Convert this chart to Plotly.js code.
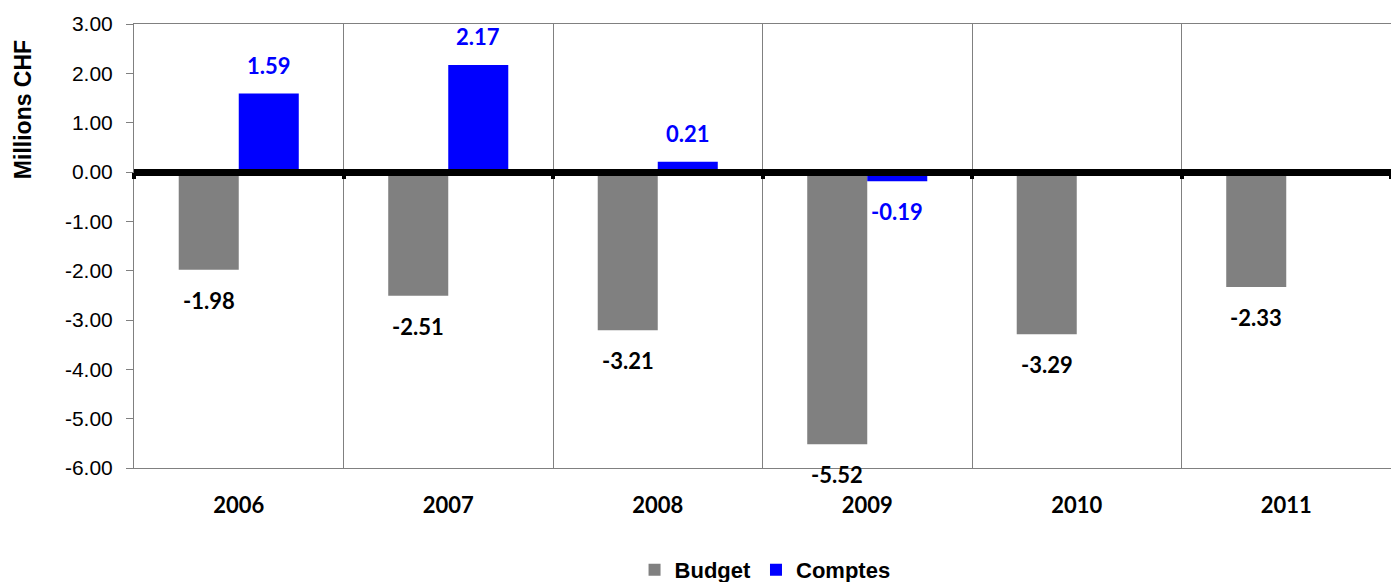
<!DOCTYPE html>
<html>
<head>
<meta charset="utf-8">
<script src="https://cdn.plot.ly/plotly-3.0.1.min.js"></script>
<style>html,body{margin:0;padding:0;background:#fff;overflow:hidden;}#chart{width:1391px;height:582px;}</style>
</head>
<body>
<div id="chart"></div>
<script>
const years = ['2006', '2007', '2008', '2009', '2010', '2011'];
const budget = [-1.98, -2.51, -3.21, -5.52, -3.29, -2.33];
const comptes = [1.59, 2.17, 0.21, -0.19, null, null];
const yTickVals = [3, 2, 1, 0, -1, -2, -3, -4, -5, -6];
const yTickText = yTickVals.map(v => v.toFixed(2));
const yMin = -6, yMax = 3;

const labelFont = {family: 'Lato, "Open Sans", sans-serif', size: 22, color: '#000000', weight: 'bold'};

const traces = [
  {type: 'bar', name: 'Budget', x: years, y: budget,
   marker: {color: '#808080'}, hoverinfo: 'x+y'},
  {type: 'bar', name: 'Comptes', x: years, y: comptes,
   marker: {color: '#0000FF'}, hoverinfo: 'x+y'},
  // helper trace carrying the category axis drawn along the zero line (tick marks only)
  {type: 'scatter', mode: 'markers', x: years, y: years.map(() => null), xaxis: 'x2', yaxis: 'y',
   showlegend: false, hoverinfo: 'skip'}
];

const annotations = [];
years.forEach((yr, i) => {
  if (budget[i] !== null) {
    annotations.push({x: i, y: budget[i], xref: 'x', yref: 'y', text: budget[i].toFixed(2),
      showarrow: false, xshift: -30, yshift: budget[i] < 0 ? -15 : 13,
      yanchor: budget[i] < 0 ? 'top' : 'bottom', font: labelFont});
  }
  if (comptes[i] !== null) {
    annotations.push({x: i, y: comptes[i], xref: 'x', yref: 'y', text: comptes[i].toFixed(2),
      showarrow: false, xshift: 30, yshift: comptes[i] < 0 ? -15 : 13,
      yanchor: comptes[i] < 0 ? 'top' : 'bottom', font: Object.assign({}, labelFont, {color: '#0000FF'})});
  }
});
// y-axis title, placed near the top of the axis as in the reference
annotations.push({xref: 'paper', yref: 'paper', x: -0.0883, y: 0.806, xanchor: 'center', yanchor: 'middle',
  textangle: -90, showarrow: false, text: 'Millions CHF',
  font: {family: '"Liberation Sans", Arial, sans-serif', size: 23, color: '#000000', weight: 'bold'}});

const layout = {
  width: 1391, height: 582,
  margin: {l: 134, r: 0, t: 24, b: 114},
  paper_bgcolor: '#ffffff', plot_bgcolor: '#ffffff',
  barmode: 'group', bargap: 0.427, bargroupgap: 0,
  showlegend: true,
  legend: {orientation: 'h', xref: 'container', yref: 'container', x: 0.55, xanchor: 'center',
    y: 0.0206, yanchor: 'middle',
    font: {family: '"Liberation Sans", Arial, sans-serif', size: 22, color: '#000000', weight: 'bold'},
    itemwidth: 30, traceorder: 'normal', bgcolor: 'rgba(0,0,0,0)'},
  xaxis: {
    type: 'category', range: [-0.5, 5.5], autorange: false,
    tickson: 'boundaries', showgrid: true, gridcolor: '#808080', gridwidth: 1,
    showline: true, linecolor: '#808080', linewidth: 1, mirror: true,
    ticks: '', ticklabelstandoff: 18, tickangle: 0,
    tickfont: {family: 'Lato, "Open Sans", sans-serif', size: 22, color: '#000000', weight: 'bold'},
    zeroline: false, fixedrange: true
  },
  xaxis2: {
    type: 'category', overlaying: 'x', anchor: 'free', position: (0 - yMin) / (yMax - yMin),
    range: [-0.5, 5.5], autorange: false, categoryarray: years, categoryorder: 'array',
    tickson: 'boundaries', ticks: 'outside', ticklen: 6, tickwidth: 4, tickcolor: '#000000',
    showticklabels: false, showgrid: false, showline: false, zeroline: false, side: 'bottom', fixedrange: true
  },
  yaxis: {
    range: [yMin, yMax], autorange: false, tickvals: yTickVals, ticktext: yTickText,
    showgrid: false, zeroline: true, zerolinecolor: '#000000', zerolinewidth: 7,
    zerolinelayer: 'above traces',
    showline: true, linecolor: '#808080', linewidth: 1,
    ticks: 'outside', ticklen: 7, tickcolor: '#808080', tickwidth: 1, ticklabelstandoff: 9,
    tickfont: {family: '"Liberation Sans", Arial, sans-serif', size: 21, color: '#000000'},
    automargin: false, fixedrange: true
  },
  annotations: annotations
};

Plotly.newPlot('chart', traces, layout, {displayModeBar: false, staticPlot: true});
</script>
</body>
</html>
